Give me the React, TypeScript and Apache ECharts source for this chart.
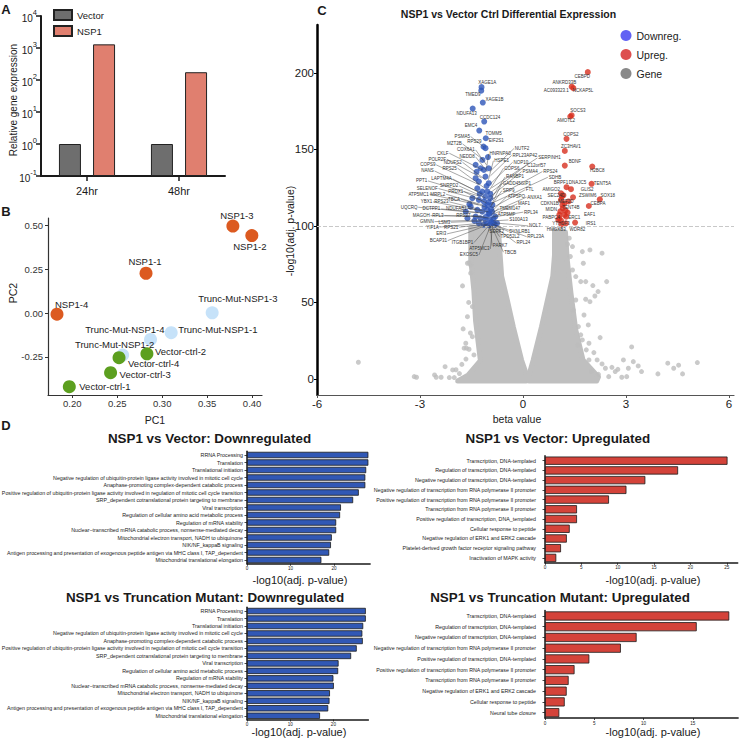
import React, { useEffect, useRef } from "react";
import * as echarts from "echarts";

const FONT = "'Liberation Sans', Arial, Helvetica, sans-serif";
const INK = "#1a1a1a";

// ===== Panel A: relative gene expression (log scale) =====
const timeCategories = ["24hr", "48hr"];
const vectorExpression = [1, 1];
const nsp1Expression = [1300, 175];
const logDecades = [-1, 0, 1, 2, 3, 4];

// ===== Panel B: PCA =====
const pcaNsp1: [string, number, number][] = [
  ["NSP1-1", 0.282, 0.226],
  ["NSP1-2", 0.3997, 0.44],
  ["NSP1-3", 0.3786, 0.494],
  ["NSP1-4", 0.183, -0.007],
];
const pcaTrunc: [string, number, number][] = [
  ["Trunc-Mut-NSP1-1", 0.31, -0.112],
  ["Trunc-Mut-NSP1-2", 0.256, -0.239],
  ["Trunc-Mut-NSP1-3", 0.3556, 0.001],
  ["Trunc-Mut-NSP1-4", 0.287, -0.15],
];
const pcaVector: [string, number, number][] = [
  ["Vector-ctrl-1", 0.1967, -0.419],
  ["Vector-ctrl-2", 0.283, -0.232],
  ["Vector-ctrl-3", 0.2426, -0.339],
  ["Vector-ctrl-4", 0.252, -0.254],
];
const pc1Ticks = [0.2, 0.25, 0.3, 0.35, 0.4];
const pc2Ticks = [-0.25, 0, 0.25, 0.5];

// ===== Panel C: volcano =====
const volcanoXTicks = [-6, -3, 0, 3, 6];
const volcanoYTicks = [0, 50, 100, 150, 200];
const significanceThreshold = 100;

const volcanoDown: [number, number][] = [
  [-1.206, 190.7], [-1.214, 188.4], [-1.169, 180.6], [-1.464, 176.7], [-1.128, 168.2],
  [-1.272, 162.3], [-1.082, 157.3], [-1.148, 151.8], [-1.091, 150.8], [-1.378, 139.9],
  [-1.235, 137.7], [-1.14, 136.6], [-0.996, 137.7], [-1.378, 131.2], [-1.283, 129.0],
  [-1.091, 132.2], [-0.996, 127.9], [-1.329, 124.6], [-1.186, 122.4], [-1.042, 122.4],
  [-1.473, 118.1], [-1.283, 117.0], [-1.14, 115.9], [-0.947, 118.1], [-1.522, 112.6],
  [-1.329, 110.5], [-1.186, 109.3], [-1.042, 110.5], [-0.899, 109.3], [-1.616, 105.0],
  [-1.378, 106.1], [-1.235, 105.0], [-1.091, 103.9], [-0.947, 103.9], [-0.804, 106.1],
  [-1.14, 100.7], [-0.853, 101.8], [-0.755, 101.8], [-1.283, 101.8], [-1.559, 114.2],
  [-1.665, 109.3], [-1.03, 113.7], [-0.97, 107.8], [-1.12, 112.4], [-0.89, 113.7],
  [-1.26, 120.9], [-1.06, 126.1], [-1.18, 143.1], [-1.35, 135.3], [-0.92, 102.5],
  [-0.98, 100.5], [-1.05, 101.2], [-0.86, 104.8], [-0.93, 111.0], [-1.0, 115.5],
  [-0.95, 121.0], [-1.1, 119.0], [-1.0, 108.0], [-1.08, 106.0], [-0.82, 100.8],
  [-1.415, 103.3], [-1.02, 145.0],
];
const volcanoUp: [number, number][] = [
  [1.89, 200.5], [1.42, 191.0], [1.47, 190.0], [1.42, 172.3], [1.38, 171.5],
  [1.27, 156.9], [1.22, 149.0], [1.22, 139.4], [2.02, 138.8], [2.0, 127.5],
  [1.27, 125.3], [1.4, 124.0], [1.11, 121.3], [1.13, 119.2], [2.24, 117.4],
  [1.46, 118.7], [1.92, 113.0], [1.11, 117.0], [1.21, 114.8], [1.16, 111.5],
  [1.06, 107.2], [1.3, 108.7], [1.21, 107.2], [1.06, 105.0], [1.52, 102.2],
  [1.11, 103.5], [1.25, 101.7], [1.15, 113.7], [1.24, 110.0], [1.09, 109.5],
  [1.26, 106.0], [1.03, 104.0], [1.18, 120.0], [1.33, 116.0], [1.12, 101.0],
];
const volcanoGeneOutliers: [number, number][] = [
  [-4.795, 10.9], [-3.167, 1.5], [-3.1, 1.1], [-2.575, 2.6], [-2.527, 1.1], [-2.268, 8.0],
  [-2.047, 5.9], [-2.383, 1.1], [-2.145, 0.9], [-2.0, 0.9], [-1.76, 60.8], [-1.742, 32.7],
  [-1.713, 20.1], [-1.645, 20.1], [-1.57, 19.4], [-1.665, 23.3], [-1.522, 74.5], [-1.571, 76.0],
  [-1.473, 27.6], [-1.522, 69.1], [-1.473, 47.3], [-1.617, 40.7], [-1.427, 15.7], [-1.617, 75.6],
  [-1.473, 86.5], [-1.85, 3.5], [-1.95, 6.0], [-1.78, 9.5], [-1.66, 13.0], [-1.53, 30.0], [-1.58, 50.0],
  [1.76, 75.6], [1.444, 71.2], [1.54, 66.9], [1.685, 63.6], [1.829, 63.6], [2.038, 61.0],
  [2.19, 57.1], [2.096, 54.2], [2.44, 63.6], [1.952, 50.5], [1.829, 52.1], [1.54, 51.6],
  [1.78, 41.8], [1.904, 35.3], [2.249, 27.0], [1.617, 34.2], [1.685, 28.8], [1.731, 25.5],
  [1.924, 23.3], [2.067, 17.2], [1.846, 19.0], [1.924, 12.4], [2.162, 12.4], [2.305, 9.8],
  [2.403, 7.0], [2.593, 7.6], [2.69, 4.8], [2.766, 6.3], [2.928, 12.4], [3.072, 7.0],
  [3.216, 11.3], [3.359, 8.5], [3.455, 4.8], [3.168, 20.9], [2.88, 1.1], [3.024, 1.5],
  [2.5, 1.5], [3.933, 3.3], [4.22, 10.3], [4.393, 7.0], [4.536, 9.0], [4.651, 3.3],
  [5.082, 10.7], [1.731, 83.2], [1.952, 84.3], [2.305, 82.2], [1.444, 86.5], [1.35, 92.0],
  [1.3, 88.0], [1.38, 80.0], [1.47, 45.0], [1.6, 22.0], [2.0, 5.0], [2.2, 3.0],
];
// outlines of the dense, non-significant gene cloud
const volcanoGeneCloud: [number, number][][] = [
  [[-1.52, 99], [-0.72, 99], [-0.62, 67], [-0.46, 52], [-0.28, 34], [-0.04, 12.4], [0.13, 1.3],
   [0.1, -1.3], [-1.9, -1.3], [-1.6, 2.5], [-1.24, 12], [-1.38, 38], [-1.43, 58], [-1.52, 78]],
  [[0.92, 97], [1.24, 96], [1.29, 78], [1.4, 56], [1.54, 32], [1.75, 12.4], [2.2, 1.3],
   [2.15, -1.3], [0.17, -1.3], [0.16, 1.3], [0.3, 12.4], [0.54, 34], [0.87, 67], [0.92, 81]],
];
// [gene, label beta, label p, point beta, point p] — label text ends at its anchor
const geneLabelsLeft: [string, number, number, number, number][] = [
  ["PSMA5", -1.522, 158.4, -1.15, 151.8], ["MZT2B", -1.76, 153.6, -1.148, 143.1],
  ["COX6A1", -1.378, 149.7, -1.062, 139.9], ["CKLF", -2.145, 147.5, -1.177, 136.6],
  ["NEDD8", -1.378, 145.1, -1.034, 135.3], ["POLR2F", -2.219, 143.6, -1.206, 131.4],
  ["NDUFS2", -1.76, 141.6, -1.091, 130.1], ["COPS9", -2.527, 139.9, -1.263, 126.8],
  ["RPS25", -1.904, 137.7, -1.12, 124.8], ["NANS", -2.575, 135.9, -1.292, 122.2],
  ["PPT1", -2.765, 129.4, -1.292, 119.6], ["LAPTM4A", -2.047, 130.7, -1.148, 120.3],
  ["SNRPD2", -1.858, 126.1, -1.091, 118.3], ["SELENOF", -2.461, 124.4, -1.235, 117.0],
  ["PRDX1", -1.714, 122.4, -1.062, 115.0], ["ATP5MC1", -2.719, 120.7, -1.292, 113.7],
  ["MRPL2", -2.239, 120.7, -1.177, 113.7], ["TBCA", -1.809, 117.5, -1.091, 112.4],
  ["YBX1", -2.621, 115.7, -1.349, 110.5], ["RPS23", -2.145, 115.7, -1.206, 110.5],
  ["UQCRQ", -3.052, 112.2, -1.292, 108.5], ["DCTPP1", -2.383, 111.1, -1.148, 108.5],
  ["NDUFAB1", -1.616, 111.6, -1.005, 109.2], ["MAGOH", -2.69, 106.7, -1.235, 106.5],
  ["RPL3", -2.288, 106.7, -1.12, 105.9], ["RPS27", -1.502, 106.5, -0.976, 105.2],
  ["GMNN", -2.575, 102.8, -1.177, 103.9], ["LSM3", -2.096, 102.4, -1.062, 103.3],
  ["YIF1A", -2.432, 99.2, -1.12, 102.0], ["RPS21", -1.858, 99.2, -1.005, 101.3],
  ["ERI3", -2.211, 94.8, -1.062, 100.7], ["BCAP31", -2.191, 90.4, -1.034, 100.7],
  ["ITGB1BP1", -1.427, 89.1, -0.976, 100.7], ["ATP5MC3", -0.947, 85.0, -0.89, 100.0],
  ["EXOSC5", -1.283, 81.0, -0.947, 100.0],
];
// label text starts at its anchor
const geneLabelsRight: [string, number, number, number, number][] = [
  ["HNRNPA0", -0.996, 147.1, -1.062, 137.7], ["NUTF2", -0.26, 150.6, -0.976, 135.3],
  ["RPL23AP42", -0.33, 146.1, -0.947, 132.7], ["HSPE1", -0.86, 142.6, -1.005, 130.1],
  ["NOP10", -0.3, 141.6, -0.947, 127.5], ["SERPINH1", 0.42, 144.4, -0.919, 124.8],
  ["C12orf57", 0.106, 139.7, -0.919, 122.2], ["COPS6", -0.566, 137.7, -0.976, 123.5],
  ["PSMA4", -0.037, 135.5, -0.919, 119.6], ["RPS24", 0.566, 135.5, -0.89, 117.6],
  ["RANBP1", -0.517, 132.0, -0.947, 117.0], ["SDHB", 0.726, 131.8, -0.89, 115.0],
  ["GADD45GIP1", -0.612, 127.9, -0.919, 113.7], ["FTL", 0.057, 123.5, -0.89, 111.8],
  ["SRP9", -0.612, 123.1, -0.947, 112.4], ["ATP5PO", -0.468, 119.2, -0.89, 109.8],
  ["ANXA1", 0.106, 118.8, -0.861, 109.2], ["MAF1", -0.164, 114.4, -0.861, 107.8],
  ["TMEM147", -0.709, 111.6, -0.919, 107.2], ["RPL34", 0.009, 109.0, -0.833, 105.9],
  ["ATP5MF", -0.755, 107.2, -0.919, 105.2], ["S100A13", -0.422, 103.9, -0.861, 103.3],
  ["NOL7", 0.152, 100.0, -0.833, 102.0], ["DYNLRB1", -0.422, 96.3, -0.89, 101.3],
  ["SERF2", -0.996, 96.3, -0.976, 100.7], ["TPD52L2", -0.68, 93.0, -0.919, 100.7],
  ["RPL23A", 0.106, 93.0, -0.833, 100.7], ["RPL24", -0.21, 89.1, -0.861, 100.0],
  ["PARK7", -0.899, 87.1, -0.947, 100.0], ["TBCB", -0.566, 82.8, -0.919, 100.0],
];
const geneLabelsFree: [string, number, number, "left" | "right" | "center"][] = [
  ["XAGE1A", -1.042, 193.7, "center"], ["TMED9", -1.235, 185.6, "right"],
  ["XAGE1B", -1.091, 182.8, "left"], ["NDUFA13", -1.642, 173.6, "center"],
  ["CCDC124", -1.255, 170.6, "left"], ["EMC4", -1.33, 165.4, "right"],
  ["TOMM5", -1.091, 160.6, "left"], ["EIF2S1", -0.996, 155.6, "left"],
  ["RPS29", -1.415, 155.0, "center"],
  ["CEBPD", 1.731, 197.6, "center"], ["ANKRD33B", 1.206, 193.9, "center"],
  ["AC093323.1", 0.968, 188.2, "center"], ["NCKAP5L", 1.751, 188.2, "center"],
  ["SOCS3", 1.6, 175.2, "center"], ["AMOTL2", 1.254, 168.6, "center"],
  ["COPS2", 1.398, 159.7, "center"], ["ZC3HAV1", 1.398, 151.8, "center"],
  ["BDNF", 1.513, 142.0, "center"], ["H2BC8", 2.162, 135.9, "center"],
  ["TENT5A", 2.067, 127.5, "left"], ["BRPF1", 1.111, 128.3, "center"],
  ["DNAJC5", 1.588, 128.5, "center"], ["GLIS2", 1.685, 123.5, "left"],
  ["AMIGO2", 0.824, 123.5, "center"], ["SEC24D", 0.968, 119.6, "center"],
  ["ZSWIM6", 1.637, 119.8, "left"], ["SOX18", 2.26, 119.8, "left"],
  ["CEBPA", 1.972, 114.8, "left"], ["CDKN1B", 0.775, 114.8, "center"],
  ["MEF2D", 1.254, 115.9, "center"], ["TENT4B", 1.398, 112.2, "center"],
  ["MIDN", 0.824, 110.5, "center"], ["EAF1", 1.78, 107.6, "left"],
  ["ERC1", 1.493, 105.7, "center"], ["PABPC4", 0.824, 105.7, "center"],
  ["IRS1", 1.829, 101.8, "left"], ["YTHDF3", 1.111, 101.8, "center"],
  ["HMGXB3", 0.968, 97.4, "center"], ["WDR82", 1.588, 97.8, "center"],
];

// ===== Panel D: enrichment =====
const d1Terms = [
  "RRNA Processing", "Translation", "Translational initiation",
  "Negative regulation of ubiquitin-protein ligase activity involved in mitotic cell cycle",
  "Anaphase-promoting complex-dependent catabolic process",
  "Positive regulation of ubiquitin-protein ligase activity involved in regulation of mitotic cell cycle transition",
  "SRP_dependent cotranslational protein targeting to membrane", "Viral transcription",
  "Regulation of cellular amino acid metabolic process", "Regulation of mRNA stability",
  "Nuclear−transcribed mRNA catabolic process, nonsense-mediated decay",
  "Mitochondrial electron transport, NADH to ubiquinone", "NIK/NF_kappaB signaling",
  "Antigen processing and presentation of exogenous peptide antigen via MHC class I, TAP_dependent",
  "Mitochondrial translational elongation",
];
const d1Values = [27.9, 27.9, 27.4, 27.2, 27.2, 25.7, 24.4, 21.6, 21.4, 20.5, 20.5, 19.5, 19.3, 18.9, 17.1];
const d2Terms = [
  "Transcription, DNA-templated", "Regulation of transcription, DNA-templated",
  "Negative regulation of transcription, DNA-templated",
  "Negative regulation of transcription from RNA polymerase II promoter",
  "Positive regulation of transcription from RNA polymerase II promoter",
  "Transcription from RNA polymerase II promoter",
  "Positive regulation of transcription, DNA_templated", "Cellular response to peptide",
  "Negative regulation of ERK1 and ERK2 cascade",
  "Platelet-derived growth factor receptor signaling pathway", "Inactivation of MAPK activity",
];
const d2Values = [25.1, 18.3, 13.8, 11.2, 8.8, 4.4, 4.4, 3.4, 3.0, 2.2, 1.55];
const d3Terms = d1Terms;
const d3Values = [27.5, 27.5, 26.9, 26.7, 26.8, 25.4, 24.1, 21.2, 21.1, 20.0, 20.1, 19.2, 19.1, 18.8, 16.9];
const d4Terms = [
  "Transcription, DNA-templated", "Regulation of transcription, DNA-templated",
  "Negative regulation of transcription, DNA-templated",
  "Negative regulation of transcription from RNA polymerase II promoter",
  "Positive regulation of transcription, DNA-templated",
  "Positive regulation of transcription from RNA polymerase II promoter",
  "Transcription from RNA polymerase II promoter",
  "Negative regulation of ERK1 and ERK2 cascade", "Cellular response to peptide",
  "Neural tube closure",
];
const d4Values = [18.7, 15.4, 9.3, 7.7, 4.5, 3.0, 2.4, 2.2, 2.0, 1.45];

// label placement for PCA points (styling, px)
const pcaLabelPlacement: Record<string, [number, number, "left" | "center" | "right"]> = {
  "NSP1-1": [-1, -12, "center"],
  "NSP1-2": [-2, 11, "center"],
  "NSP1-3": [4, -11, "center"],
  "NSP1-4": [-2, -10, "left"],
  "Trunc-Mut-NSP1-1": [7, -3, "left"],
  "Trunc-Mut-NSP1-2": [-8, -11, "center"],
  "Trunc-Mut-NSP1-3": [-14, -14, "left"],
  "Trunc-Mut-NSP1-4": [14, -10, "right"],
  "Vector-ctrl-1": [10, 0, "left"],
  "Vector-ctrl-2": [8, -2, "left"],
  "Vector-ctrl-3": [9, 1.5, "left"],
  "Vector-ctrl-4": [9, 5.5, "left"],
};

function buildOption(): any {
  const logMin = logDecades[0];
  const logHeight = (v: number) => Math.log10(v) - logMin;
  const logTickPos = logDecades.map((d) => d - logMin);

  const grid = [
    { left: 41, top: 16, width: 184, height: 160 },
    { left: 48, top: 218, width: 214, height: 177 },
    { left: 317, top: 25, width: 417, height: 370 },
    { left: 247, top: 451.25, width: 123.1, height: 112.5 },
    { left: 545, top: 455.8, width: 192.7, height: 107 },
    { left: 247, top: 607.3, width: 121.4, height: 112.2 },
    { left: 545, top: 610.6, width: 193.1, height: 107.4 },
  ].map((g) => ({ ...g, containLabel: false, outerBoundsMode: "none" }));

  const line = (color: string, width: number) => ({ show: true, onZero: false, lineStyle: { color, width } });

  const dValueAxis = (gi: number, max: number, ticks: number[]) => ({
    gridIndex: gi, type: "value", min: 0, max,
    axisLine: line(INK, 1.5),
    axisTick: { show: true, customValues: ticks, length: 2, lineStyle: { color: INK, width: 0.8 } },
    axisLabel: { customValues: ticks, fontSize: 4.6, color: INK, margin: 2.5, fontFamily: FONT },
    splitLine: { show: false },
  });
  const dCategoryAxis = (gi: number, terms: string[], fontSize: number, margin: number) => ({
    gridIndex: gi, type: "category", inverse: true, data: terms,
    axisLine: line(INK, 1.5),
    axisTick: { show: true, alignWithLabel: true, length: 2.5, lineStyle: { color: INK, width: 0.8 } },
    axisLabel: { interval: 0, fontSize, color: INK, margin, fontFamily: FONT },
    splitLine: { show: false },
  });

  const xAxis = [
    {
      gridIndex: 0, type: "category", data: timeCategories,
      axisLine: line(INK, 2),
      axisTick: { show: true, alignWithLabel: true, length: 5, lineStyle: { color: INK, width: 1.5 } },
      axisLabel: { fontSize: 11, color: INK, margin: 9, fontFamily: FONT },
      splitLine: { show: false },
    },
    {
      gridIndex: 1, type: "value", min: 0.173, max: 0.411,
      axisLine: line("#333", 1.2),
      axisTick: { show: true, customValues: pc1Ticks, length: 3, lineStyle: { color: "#333" } },
      axisLabel: { customValues: pc1Ticks, formatter: (v: number) => v.toFixed(2), fontSize: 9.5, color: "#333", margin: 3, fontFamily: FONT },
      splitLine: { show: false },
      name: "PC1", nameLocation: "middle", nameGap: 19,
      nameTextStyle: { fontSize: 10.5, color: "#222", fontFamily: FONT },
    },
    {
      gridIndex: 2, type: "value", min: -6, max: 6.15,
      axisLine: line("#555", 1.2),
      axisTick: { show: true, customValues: volcanoXTicks, length: 3, lineStyle: { color: "#555" } },
      axisLabel: { customValues: volcanoXTicks, fontSize: 11.5, color: INK, margin: 3, fontFamily: FONT },
      splitLine: { show: false },
    },
    dValueAxis(3, 28.3, [0, 10, 20]),
    dValueAxis(4, 26.5, [0, 5, 10, 15, 20, 25]),
    dValueAxis(5, 28.1, [0, 10, 20]),
    dValueAxis(6, 19.6, [0, 5, 10, 15]),
  ];

  const yAxis = [
    {
      gridIndex: 0, type: "value", min: 0, max: logDecades.length - 1,
      axisLine: line(INK, 2),
      axisTick: { show: true, customValues: logTickPos, length: 5, lineStyle: { color: INK, width: 1.5 } },
      axisLabel: {
        customValues: logTickPos, margin: 4,
        formatter: (v: number) => `{b|10}{s|${Math.round(v + logMin)}}`,
        rich: {
          b: { fontSize: 10, color: INK, fontFamily: FONT, lineHeight: 15, verticalAlign: "bottom" },
          s: { fontSize: 7.5, color: INK, fontFamily: FONT, lineHeight: 8, verticalAlign: "top" },
        },
      },
      splitLine: { show: false },
    },
    {
      gridIndex: 1, type: "value", min: -0.466, max: 0.54,
      axisLine: line("#333", 1.2),
      axisTick: { show: true, customValues: pc2Ticks, length: 3, lineStyle: { color: "#333" } },
      axisLabel: { customValues: pc2Ticks, formatter: (v: number) => v.toFixed(2), fontSize: 9.5, color: "#333", margin: 5, fontFamily: FONT },
      splitLine: { show: false },
    },
    {
      gridIndex: 2, type: "value", min: -10.5, max: 231.3,
      axisLine: line("#000", 2.5),
      axisTick: { show: true, customValues: volcanoYTicks, length: 3, lineStyle: { color: "#000" } },
      axisLabel: { customValues: volcanoYTicks, fontSize: 11.5, color: INK, margin: 3, fontFamily: FONT },
      splitLine: { show: false },
    },
    dCategoryAxis(3, d1Terms, 5.3, 4),
    dCategoryAxis(4, d2Terms, 5.3, 9),
    dCategoryAxis(5, d3Terms, 5.3, 4),
    dCategoryAxis(6, d4Terms, 5.3, 9),
  ];

  const pcaSeries = (name: string, rows: [string, number, number][], color: string) => ({
    type: "scatter", name, xAxisIndex: 1, yAxisIndex: 1, symbolSize: 13, silent: true,
    itemStyle: { color, opacity: 1 },
    data: rows.map(([label, x, y]) => {
      const [dx, dy, align] = pcaLabelPlacement[label];
      return {
        name: label, value: [x, y],
        label: { show: true, position: "inside", offset: [dx, dy], align, verticalAlign: "middle",
          formatter: label, fontSize: 9.5, color: "#222", fontFamily: FONT },
      };
    }),
  });

  const annotationSeries = (list: any[], mode: "left" | "right" | "free") => ({
    type: "custom", xAxisIndex: 2, yAxisIndex: 2, silent: true, z: 6,
    data: list.map((a) => [a[1], a[2]]),
    renderItem: (params: any, api: any) => {
      const a = list[params.dataIndex];
      const p = api.coord([a[1], a[2]]);
      const children: any[] = [];
      let align: string = "center";
      let tx = p[0];
      if (mode !== "free") {
        const t = api.coord([a[3], a[4]]);
        children.push({ type: "line", shape: { x1: p[0], y1: p[1], x2: t[0], y2: t[1] },
          style: { stroke: "#3a3a3a", lineWidth: 0.45 } });
        align = mode === "left" ? "right" : "left";
        tx = mode === "left" ? p[0] - 0.8 : p[0] + 0.8;
      } else {
        align = a[3];
      }
      children.push({ type: "text", x: tx, y: p[1],
        style: { text: a[0], fontSize: 4.5, fill: "#333", align, verticalAlign: "middle", fontFamily: FONT } });
      return { type: "group", children };
    },
  });

  const dBar = (idx: number, values: number[], color: string) => ({
    type: "bar", xAxisIndex: idx, yAxisIndex: idx, data: values, barCategoryGap: "15%", silent: true,
    itemStyle: { color, borderColor: "#1b1b1b", borderWidth: 0.8 },
  });

  const series: any[] = [
    {
      type: "bar", name: "Vector", xAxisIndex: 0, yAxisIndex: 0, barWidth: 22, barGap: "55%",
      data: vectorExpression.map(logHeight), silent: true,
      itemStyle: { color: "#6e6e6e", borderColor: "#222", borderWidth: 1 },
    },
    {
      type: "bar", name: "NSP1", xAxisIndex: 0, yAxisIndex: 0, barWidth: 22, barGap: "55%",
      data: nsp1Expression.map(logHeight), silent: true,
      itemStyle: { color: "#e07f6f", borderColor: "#222", borderWidth: 1 },
    },
    pcaSeries("pcaNSP1", pcaNsp1, "#dc5a20"),
    pcaSeries("pcaTrunc", pcaTrunc, "#c6e2f9"),
    pcaSeries("pcaVector", pcaVector, "#5c9f1f"),
    {
      type: "custom", xAxisIndex: 2, yAxisIndex: 2, silent: true, z: 1,
      data: volcanoGeneCloud.map((poly) => poly[0]),
      renderItem: (params: any, api: any) => ({
        type: "polygon",
        shape: { points: volcanoGeneCloud[params.dataIndex].map((pt) => api.coord(pt)) },
        style: { fill: "#bfbfbf", stroke: "#bfbfbf", lineWidth: 5, lineJoin: "round" },
      }),
    },
    {
      type: "scatter", name: "Gene", xAxisIndex: 2, yAxisIndex: 2, symbolSize: 5, z: 2, silent: true,
      itemStyle: { color: "#bdbdbd" }, data: volcanoGeneOutliers,
      markLine: {
        silent: true, symbol: "none", label: { show: false },
        lineStyle: { type: "dashed", color: "#c8c8c8", width: 1 },
        data: [{ yAxis: significanceThreshold }],
      },
    },
    {
      type: "scatter", name: "Downreg.", xAxisIndex: 2, yAxisIndex: 2, symbolSize: 6, z: 4, silent: true,
      itemStyle: { color: "#2d55b8" }, data: volcanoDown,
    },
    {
      type: "scatter", name: "Upreg.", xAxisIndex: 2, yAxisIndex: 2, symbolSize: 6, z: 4, silent: true,
      itemStyle: { color: "#d7301f" }, data: volcanoUp,
    },
    annotationSeries(geneLabelsLeft, "left"),
    annotationSeries(geneLabelsRight, "right"),
    annotationSeries(geneLabelsFree, "free"),
    dBar(3, d1Values, "#3158b5"),
    dBar(4, d2Values, "#d4433a"),
    dBar(5, d3Values, "#3158b5"),
    dBar(6, d4Values, "#d4433a"),
  ];

  const txt = (text: string, x: number, y: number, size: number, bold = false, rotation = 0, align = "center") => ({
    type: "text", x, y, rotation, silent: true, z: 100,
    style: { text, fontSize: size, fontWeight: bold ? "bold" : "normal", fill: INK, align,
      verticalAlign: "middle", fontFamily: FONT },
  });
  const R = Math.PI / 2;

  const graphic = [
    txt("A", 6, 9, 13, true),
    txt("B", 6, 211.5, 13, true),
    txt("C", 322, 10, 13, true),
    txt("D", 6, 425.5, 13, true),
    txt("Relative gene expression", 13, 100, 10, false, R),
    txt("PC2", 13, 293, 10.5, false, R),
    txt("-log10(adj. p-value)", 290, 231, 10.5, false, R),
    txt("beta value", 517, 419, 10.5),
    txt("NSP1 vs Vector Ctrl Differential Expression", 508.5, 13.5, 10.5, true),
    txt("NSP1 vs Vector: Downregulated", 209.5, 438.8, 13.4, true),
    txt("NSP1 vs Vector: Upregulated", 557.8, 438.8, 13.4, true),
    txt("NSP1 vs Truncation Mutant: Downregulated", 205, 597.2, 13.4, true),
    txt("NSP1 vs Truncation Mutant: Upregulated", 560, 597.2, 13.4, true),
    txt("-log10(adj. p-value)", 300, 580, 11),
    txt("-log10(adj. p-value)", 653, 580, 11),
    txt("-log10(adj. p-value)", 299, 732, 11),
    txt("-log10(adj. p-value)", 653, 732, 11),
  ];

  return {
    animation: false,
    backgroundColor: "#ffffff",
    textStyle: { fontFamily: FONT },
    grid, xAxis, yAxis, series, graphic,
    legend: [
      {
        data: ["Vector", "NSP1"], orient: "vertical", left: 53, top: 9, padding: 0,
        itemWidth: 18, itemHeight: 10, itemGap: 4, icon: "rect", selectedMode: false,
        textStyle: { fontSize: 9.5, color: INK, fontFamily: FONT },
      },
      {
        data: [
          { name: "Downreg.", itemStyle: { color: "#3b3bf0" } },
          { name: "Upreg.", itemStyle: { color: "#d42222" } },
          { name: "Gene", itemStyle: { color: "#6b6b6b" } },
        ],
        orient: "vertical", left: 620.5, top: 30, padding: 0,
        itemWidth: 11, itemHeight: 11, itemGap: 8, icon: "circle", selectedMode: false,
        textStyle: { fontSize: 10.5, color: INK, fontFamily: FONT },
      },
    ],
  };
}

export default function App() {
  const ref = useRef<HTMLDivElement>(null);
  useEffect(() => {
    if (!ref.current) return;
    const chart = echarts.init(ref.current, null, { renderer: "svg" });
    chart.setOption(buildOption());
    return () => chart.dispose();
  }, []);
  return (
    <div
      ref={ref}
      style={{ position: "fixed", left: 0, top: 0, width: 739, height: 739, background: "#fff" }}
    />
  );
}
